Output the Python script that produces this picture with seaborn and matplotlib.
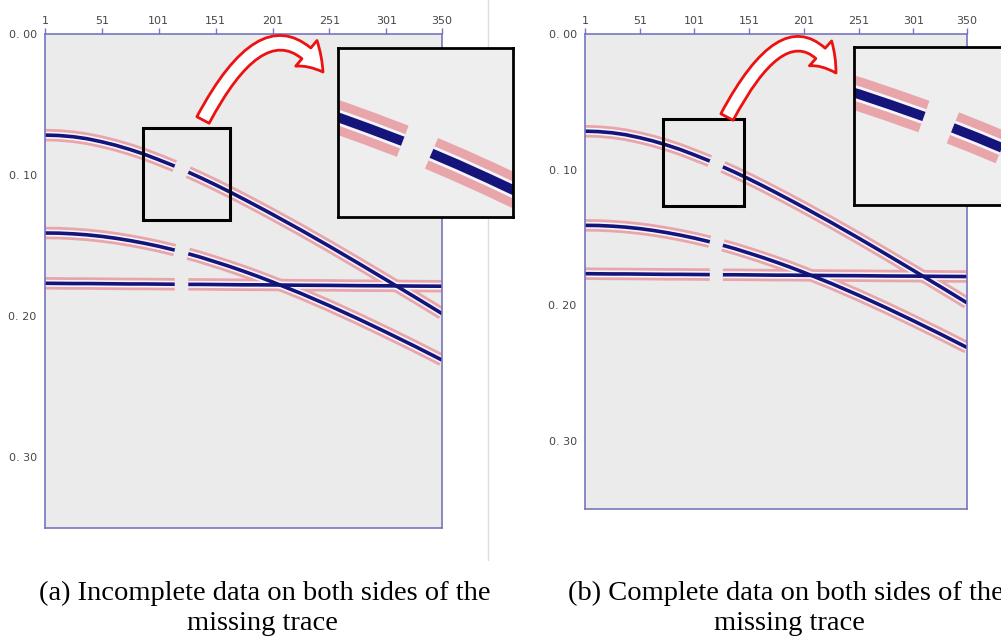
import matplotlib
matplotlib.use("Agg")
import matplotlib.pyplot as plt
import pandas as pd
import seaborn as sns
from matplotlib.patches import FancyArrowPatch, Rectangle
from matplotlib.lines import Line2D

sns.set_theme(style="white")

traces = [1, 13, 26, 38, 51, 63, 76, 88, 101, 115, 127, 138, 151, 163, 176,
          188, 201, 226, 251, 276, 301, 326, 350]
# two-way times (s) of the three reflection events
event1 = [0.0716, 0.0719, 0.0728, 0.0742, 0.0764, 0.0788, 0.0819, 0.0851,
          0.0891, 0.0936, 0.0979, 0.1019, 0.1069, 0.1117, 0.1171, 0.1222,
          0.1278, 0.1389, 0.1504, 0.1622, 0.1742, 0.1863, 0.1981]
event2 = [0.1410, 0.1411, 0.1416, 0.1423, 0.1434, 0.1447, 0.1464, 0.1482,
          0.1504, 0.1531, 0.1557, 0.1582, 0.1615, 0.1646, 0.1682, 0.1717,
          0.1757, 0.1838, 0.1925, 0.2017, 0.2113, 0.2212, 0.2310]
event3 = [0.1766, 0.1767, 0.1768, 0.1768, 0.1769, 0.1770, 0.1771, 0.1771,
          0.1772, 0.1773, 0.1774, 0.1774, 0.1775, 0.1776, 0.1777, 0.1777,
          0.1778, 0.1780, 0.1781, 0.1783, 0.1784, 0.1786, 0.1787]
gap_start = 116  # first missing trace

x_ticks = [1, 51, 101, 151, 201, 251, 301, 350]
y_ticks = [0.0, 0.1, 0.2, 0.3]
y_labels = ["0. 00", "0. 10", "0. 20", "0. 30"]

captions = [("(a) Incomplete data on both sides of the", "missing trace"),
            ("(b) Complete data on both sides of the", "missing trace")]

rows = []
for name, times in [("e1", event1), ("e2", event2), ("e3", event3)]:
    for tr, t in zip(traces, times):
        seg = "L" if tr < gap_start else "R"
        rows.append({"trace": tr, "time": t, "unit": name + seg})
events = pd.DataFrame(rows)

layer_colors = ["#e8a6aa", "#f6f4fb", "#14147a"]
spine_col = "#7676c0"


def draw_events(ax, widths):
    for color, lw in zip(layer_colors, widths):
        sns.lineplot(data=events, x="trace", y="time", units="unit",
                     estimator=None, sort=False, color=color, lw=lw,
                     solid_capstyle="butt", solid_joinstyle="round",
                     legend=False, ax=ax)
    ax.set_xlabel("")
    ax.set_ylabel("")


def fig_box(x0, y0, x1, y1):
    return [x0 / 1001, 1 - y1 / 641, (x1 - x0) / 1001, (y1 - y0) / 641]


def fpt(x, y):
    return (x / 1001, 1 - y / 641)


fig = plt.figure(figsize=(10.01, 6.41), dpi=100)
fig.patch.set_facecolor("white")

panels = [
    dict(ax=fig_box(45, 34, 442, 528), inset=fig_box(338, 48, 513, 217),
         box=(87.2, 0.0667, 76.5, 0.0653), ix=(88, 161), iy=(0.1205, 0.0605),
         arrow=((203, 120), (323, 72), 62, 125), cap=(265, 262)),
    dict(ax=fig_box(585, 34, 967, 509), inset=fig_box(854, 47, 1030, 205),
         box=(72.3, 0.0625, 74.0, 0.0640), ix=(86, 159), iy=(0.1272, 0.0672),
         arrow=((727, 117), (836, 73), 62, 121), cap=(786, 789)),
]

for p, cap in zip(panels, captions):
    ax = fig.add_axes(p["ax"])
    ax.set_facecolor("#ebebeb")
    draw_events(ax, [9.0, 5.0, 2.6])
    ax.set_xlim(1, 350)
    ax.set_ylim(0.35, 0)
    ax.xaxis.tick_top()
    ax.set_xticks(x_ticks)
    ax.set_yticks(y_ticks, y_labels)
    ax.tick_params(colors=spine_col, labelcolor="#474747", labelsize=8,
                   length=4, width=1, pad=2)
    for s in ax.spines.values():
        s.set_color(spine_col)
        s.set_linewidth(1.2)
    bx, by, bw, bh = p["box"]
    ax.add_patch(Rectangle((bx, by), bw, bh, fill=False, ec="black",
                           lw=2.2, zorder=5))

    ins = fig.add_axes(p["inset"])
    ins.set_facecolor("#eeeeee")
    draw_events(ins, [24, 11, 7])
    ins.set_xlim(*p["ix"])
    ins.set_ylim(*p["iy"])
    ins.set_xticks([])
    ins.set_yticks([])
    for s in ins.spines.values():
        s.set_color("black")
        s.set_linewidth(2)

    a, b, angA, angB = p["arrow"]
    arr = FancyArrowPatch(fpt(*a), fpt(*b), transform=fig.transFigure,
                          connectionstyle=f"angle3,angleA={angA},angleB={angB}",
                          arrowstyle="simple,head_length=1.8,head_width=2.4,tail_width=1.0",
                          mutation_scale=10, fc="white", ec="#ee1111", lw=2,
                          shrinkA=0, shrinkB=0, zorder=10)
    fig.add_artist(arr)

    x1, x2 = p["cap"]
    fig.text(*fpt(x1, 600), cap[0], ha="center", va="baseline", fontsize=20.5,
             family="Liberation Serif", color="black")
    fig.text(*fpt(x2, 630), cap[1], ha="center", va="baseline", fontsize=20.5,
             family="Liberation Serif", color="black")

fig.add_artist(Line2D([488 / 1001, 488 / 1001], [1.0, 1 - 560 / 641],
                      transform=fig.transFigure, color="#dddddd", lw=1,
                      zorder=-1))

fig.savefig("out.png", dpi=100)
